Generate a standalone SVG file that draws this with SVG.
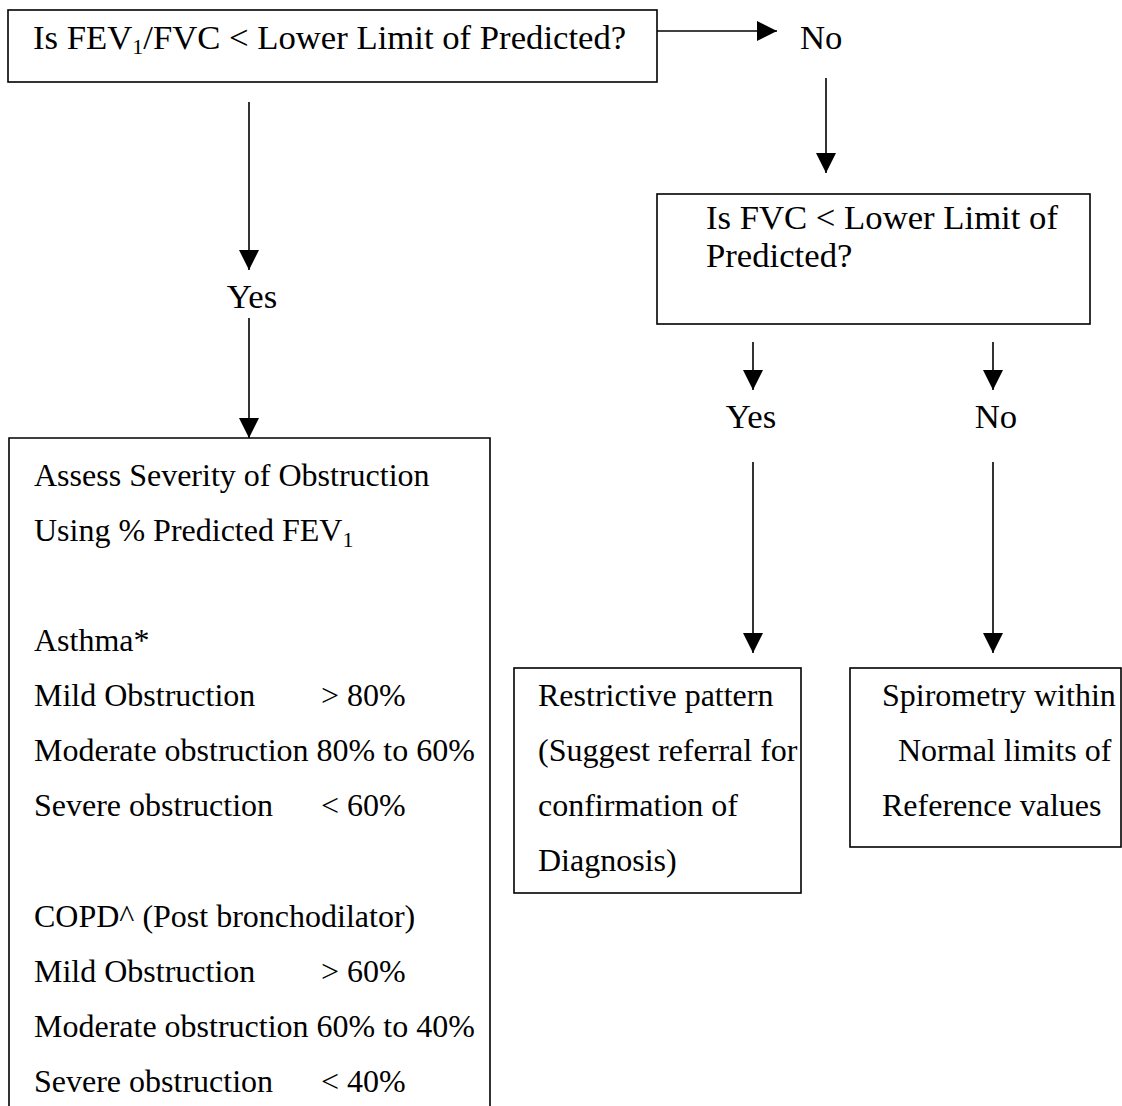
<svg xmlns="http://www.w3.org/2000/svg" width="1122" height="1106" viewBox="0 0 1122 1106">
<style>
text { font-family: "Liberation Serif", "Times New Roman", serif; font-size: 32px; fill: #000; }
.big { font-size: 34.7px; }
.box { fill: #fff; stroke: #000; stroke-width: 1.6; }
.conn line { stroke: #000; stroke-width: 1.6; }
.mid { text-anchor: middle; }
.sub { font-size: 22px; }
</style>
<defs>
<marker id="ah" viewBox="0 0 20 20" refX="20" refY="10" markerWidth="20" markerHeight="20" markerUnits="userSpaceOnUse" orient="auto">
<path d="M0,0 L20,10 L0,20 Z" fill="#000"/>
</marker>
</defs>
<rect width="1122" height="1106" fill="#fff"/>

<g id="connectors" class="conn">
<line x1="657" y1="31" x2="777" y2="31" marker-end="url(#ah)"/>
<line x1="826" y1="78" x2="826" y2="173" marker-end="url(#ah)"/>
<line x1="249" y1="102" x2="249" y2="270" marker-end="url(#ah)"/>
<line x1="249" y1="318" x2="249" y2="438" marker-end="url(#ah)"/>
<line x1="753" y1="342" x2="753" y2="390" marker-end="url(#ah)"/>
<line x1="993" y1="342" x2="993" y2="390" marker-end="url(#ah)"/>
<line x1="753" y1="462" x2="753" y2="653" marker-end="url(#ah)"/>
<line x1="993" y1="462" x2="993" y2="653" marker-end="url(#ah)"/>
</g>

<g id="q1">
<rect class="box" x="8" y="10" width="649" height="72"/>
<text class="big" x="33" y="49">Is FEV<tspan class="sub" dy="5">1</tspan><tspan dy="-5">/FVC &lt; Lower Limit of Predicted?</tspan></text>
</g>

<g id="label-no1">
<text class="big" x="800" y="49">No</text>
</g>

<g id="q2">
<rect class="box" x="657" y="194" width="433" height="130"/>
<text class="big" x="706" y="229">Is FVC &lt; Lower Limit of</text>
<text class="big" x="706" y="267">Predicted?</text>
</g>

<g id="label-yes1">
<text class="big mid" x="252" y="308">Yes</text>
</g>

<g id="label-yes2">
<text class="big mid" x="751" y="428">Yes</text>
</g>

<g id="label-no2">
<text class="big mid" x="996" y="428">No</text>
</g>

<g id="severity">
<path class="box" d="M9,1110 L9,438 L490,438 L490,1110"/>
<text x="34" y="486">Assess Severity of Obstruction</text>
<text x="34" y="541">Using % Predicted FEV<tspan class="sub" dy="6">1</tspan></text>
<text x="34" y="651">Asthma*</text>
<text x="34" y="706">Mild Obstruction</text>
<text x="321" y="706">&gt; 80%</text>
<text x="34" y="761">Moderate obstruction 80% to 60%</text>
<text x="34" y="816">Severe obstruction</text>
<text x="321" y="816">&lt; 60%</text>
<text x="34" y="927">COPD^ (Post bronchodilator)</text>
<text x="34" y="982">Mild Obstruction</text>
<text x="321" y="982">&gt; 60%</text>
<text x="34" y="1037">Moderate obstruction 60% to 40%</text>
<text x="34" y="1092">Severe obstruction</text>
<text x="321" y="1092">&lt; 40%</text>
</g>

<g id="restrictive">
<rect class="box" x="514" y="668" width="287" height="225"/>
<text x="538" y="706">Restrictive pattern</text>
<text x="538" y="761">(Suggest referral for</text>
<text x="538" y="816">confirmation of</text>
<text x="538" y="871">Diagnosis)</text>
</g>

<g id="normal">
<rect class="box" x="850" y="668" width="271" height="179"/>
<text x="882" y="706">Spirometry within</text>
<text x="898" y="761">Normal limits of</text>
<text x="882" y="816">Reference values</text>
</g>
</svg>
